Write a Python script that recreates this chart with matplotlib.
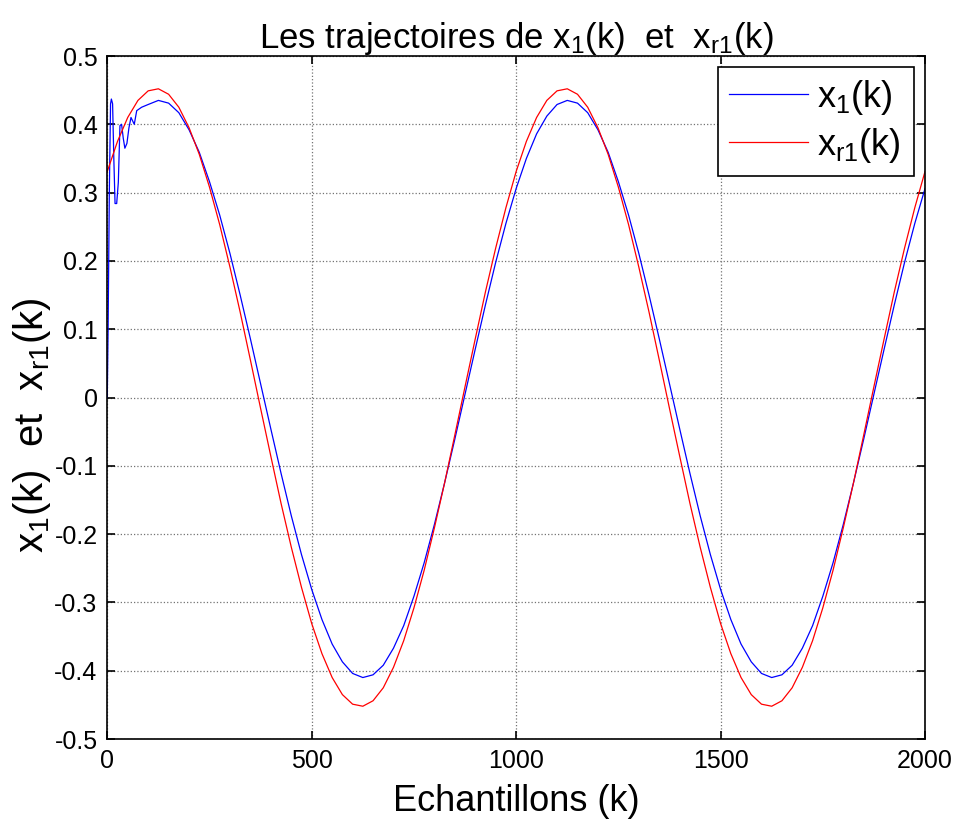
import matplotlib
matplotlib.use("Agg")
import matplotlib.pyplot as plt

plt.rcParams['font.family'] = ['Liberation Sans', 'DejaVu Sans']
plt.rcParams['mathtext.default'] = 'regular'

# sample index for the sinusoid part (every 25 samples)
k_grid = list(range(0, 2001, 25))

# reference trajectory x_r1(k)
xr1 = [0.331, 0.375, 0.410, 0.435, 0.449, 0.452, 0.444, 0.425, 0.395, 0.356,
       0.308, 0.253, 0.191, 0.125, 0.055, -0.016, -0.086, -0.155, -0.219, -0.278,
       -0.331, -0.375, -0.410, -0.435, -0.449, -0.452, -0.444, -0.425, -0.395, -0.356,
       -0.308, -0.253, -0.191, -0.125, -0.055, 0.016, 0.086, 0.155, 0.219, 0.278,
       0.331, 0.375, 0.410, 0.435, 0.449, 0.452, 0.444, 0.425, 0.395, 0.356,
       0.308, 0.253, 0.191, 0.125, 0.055, -0.016, -0.086, -0.155, -0.219, -0.278,
       -0.331, -0.375, -0.410, -0.435, -0.449, -0.452, -0.444, -0.425, -0.395, -0.356,
       -0.308, -0.253, -0.191, -0.125, -0.055, 0.016, 0.086, 0.155, 0.219, 0.278,
       0.331]

# state x_1(k): start-up transient then tracking
k_start = [0, 2, 5, 8, 10, 13, 16, 19, 23, 27, 31, 35, 39, 43, 48, 53, 58, 66, 72, 84, 100]
x1_start = [0.0, 0.10, 0.30, 0.43, 0.437, 0.43, 0.35, 0.284, 0.284, 0.315, 0.398, 0.40,
            0.38, 0.365, 0.372, 0.395, 0.41, 0.40, 0.42, 0.425, 0.429]
x1_track = [0.435, 0.431, 0.417, 0.392, 0.359, 0.316, 0.267, 0.211, 0.150, 0.086,
            0.020, -0.046, -0.111, -0.173, -0.230, -0.281, -0.325, -0.361, -0.387, -0.404,
            -0.410, -0.406, -0.392, -0.367, -0.334, -0.291, -0.242, -0.186, -0.125, -0.061,
            0.005, 0.071, 0.136, 0.198, 0.255, 0.306, 0.350, 0.386, 0.412, 0.429,
            0.435, 0.431, 0.417, 0.392, 0.359, 0.316, 0.267, 0.211, 0.150, 0.086,
            0.020, -0.046, -0.111, -0.173, -0.230, -0.281, -0.325, -0.361, -0.387, -0.404,
            -0.410, -0.406, -0.392, -0.367, -0.334, -0.291, -0.242, -0.186, -0.125, -0.061,
            0.005, 0.071, 0.136, 0.198, 0.255, 0.306]
k_track = k_grid[5:]

x_ticks = [0, 500, 1000, 1500, 2000]
y_ticks = [0.5, 0.4, 0.3, 0.2, 0.1, 0, -0.1, -0.2, -0.3, -0.4, -0.5]
y_tick_labels = ['0.5', '0.4', '0.3', '0.2', '0.1', '0', '-0.1', '-0.2', '-0.3', '-0.4', '-0.5']

fig = plt.figure(figsize=(9.57, 8.31), dpi=100)
ax = fig.add_axes([0.1121, 0.1107, 0.8545, 0.8219])

ax.plot(k_start + k_track, x1_start + x1_track, color='blue', lw=0.9, label='$x_1$(k) ')
ax.plot(k_grid, xr1, color='red', lw=0.9, label='$x_{r1}$(k) ')

ax.set_xlim(0, 2000)
ax.set_ylim(-0.5, 0.5)
ax.set_xticks(x_ticks)
ax.set_yticks(y_ticks)
ax.set_yticklabels(y_tick_labels)
ax.tick_params(direction='in', top=True, right=True, labelsize=18, length=6, width=1.2, pad=7)
ax.grid(True, color='0.45', linestyle=':', linewidth=0.9)
for s in ax.spines.values():
    s.set_linewidth(1.2)

ax.set_title('Les trajectoires de $x_1$(k)  et  $x_{r1}$(k)', fontsize=25, pad=6)
ax.set_xlabel('Echantillons (k)', fontsize=26, labelpad=8)
ax.set_ylabel('$x_1$(k)  et  $x_{r1}$(k)', fontsize=29)
ax.yaxis.set_label_coords(-0.066, 0.46)

leg = ax.legend(loc='upper right', fontsize=26, fancybox=False, framealpha=1,
                edgecolor='black', borderaxespad=0.3, handlelength=2.2,
                handletextpad=0.25, borderpad=0.3, labelspacing=0.25)
leg.get_frame().set_linewidth(1.2)

plt.savefig('out.png', dpi=100)
